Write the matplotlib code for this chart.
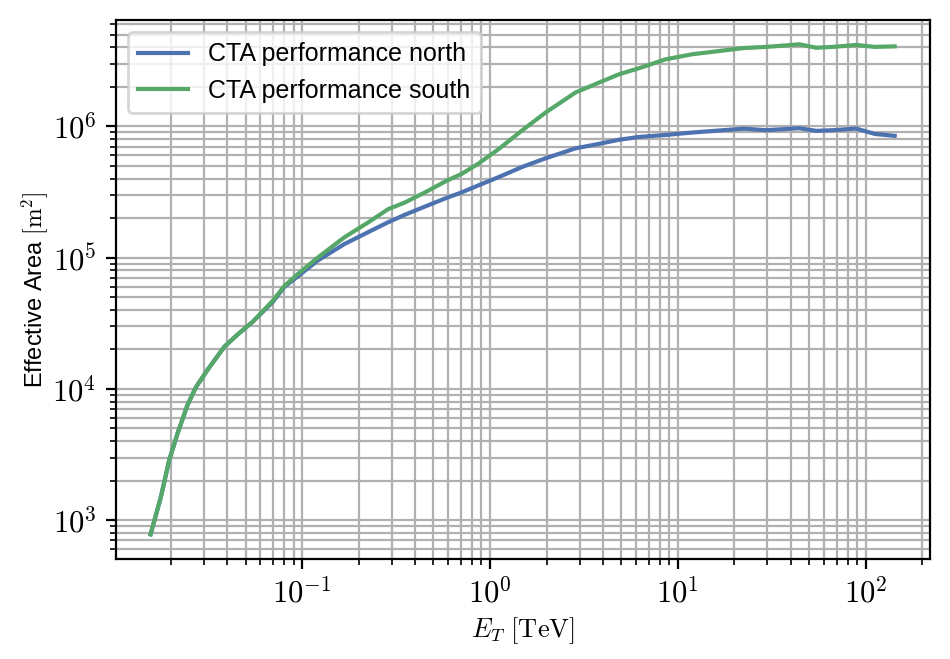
import matplotlib
matplotlib.use("Agg")
from matplotlib import pyplot as plt
from matplotlib.ticker import FuncFormatter
import numpy as np

plt.rcParams['mathtext.fontset'] = 'cm'
plt.rcParams['font.family'] = ['Liberation Sans', 'DejaVu Sans']

# energy grid [TeV]
energy = [0.0156, 0.0177, 0.0196, 0.0217, 0.0245, 0.0272, 0.0314, 0.0386, 0.0454,
          0.0546, 0.0698, 0.0806, 0.0948, 0.121, 0.168, 0.224, 0.287, 0.352, 0.451,
          0.587, 0.706, 0.867, 1.11, 1.48, 1.97, 2.85, 3.79, 4.85, 6.2, 8.6, 11.9,
          16.6, 22.5, 29.5, 37.7, 44.3, 54.5, 66.7, 88.9, 112, 142.6]

# effective areas [m^2]
area_north = [780, 1500, 2860, 4560, 7500, 1.03e4, 1.40e4, 2.10e4, 2.60e4,
              3.25e4, 4.6e4, 6.0e4, 7.2e4, 9.5e4, 1.27e5, 1.56e5, 1.86e5, 2.12e5, 2.45e5,
              2.85e5, 3.14e5, 3.55e5, 4.1e5, 4.9e5, 5.7e5, 6.8e5, 7.35e5, 7.9e5, 8.3e5, 8.6e5, 8.97e5,
              9.3e5, 9.6e5, 9.35e5, 9.55e5, 9.68e5, 9.24e5, 9.35e5, 9.62e5, 8.75e5, 8.47e5]
area_south = [780, 1500, 2860, 4560, 7500, 1.03e4, 1.40e4, 2.10e4, 2.60e4,
              3.25e4, 4.7e4, 6.1e4, 7.5e4, 1.0e5, 1.43e5, 1.85e5, 2.34e5, 2.63e5, 3.14e5,
              3.85e5, 4.34e5, 5.2e5, 6.7e5, 9.3e5, 1.27e6, 1.81e6, 2.15e6, 2.49e6, 2.77e6, 3.24e6, 3.54e6,
              3.75e6, 3.95e6, 4.03e6, 4.14e6, 4.22e6, 3.97e6, 4.03e6, 4.17e6, 4.03e6, 4.07e6]

fig, ax = plt.subplots(figsize=(4.75, 3.295), dpi=200)
fig.subplots_adjust(left=0.122, right=0.979, bottom=0.152, top=0.970)

ax.plot(energy, area_north, color='#4C72B0', lw=1.5, label='CTA performance north')
ax.plot(energy, area_south, color='#55A868', lw=1.5, label='CTA performance south')

ax.set_xscale('log')
ax.set_yscale('log')
ax.set_xlim(0.0102, 220)
ax.grid(True, which='both', color='#b0b0b0', lw=0.8)
ax.set_axisbelow(True)

pow10 = FuncFormatter(lambda v, pos: r'$10^{%d}$' % int(round(np.log10(v))))
ax.xaxis.set_major_formatter(pow10)
ax.yaxis.set_major_formatter(pow10)

ax.set_xlabel(r'$E_T\ [\mathrm{TeV}]$', fontsize=9.5, labelpad=2)
ax.set_ylabel(r'Effective Area $[\mathrm{m}^2]$', fontsize=8.5, labelpad=1)
ax.tick_params(labelsize=11)
ax.legend(loc='upper left', fontsize=9)

fig.savefig('out.png', dpi=200)
